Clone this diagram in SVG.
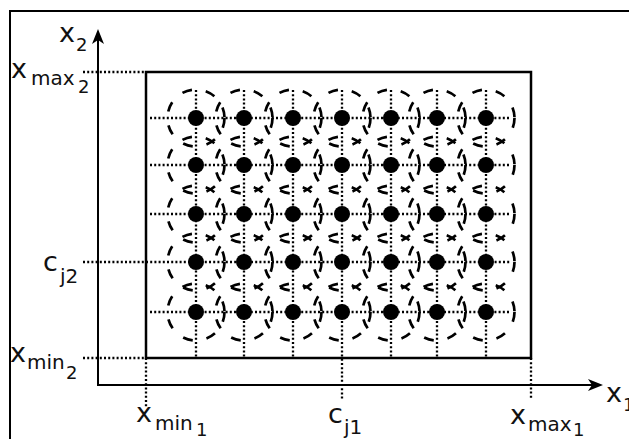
<svg xmlns="http://www.w3.org/2000/svg" width="629" height="439" viewBox="0 0 629 439">
<style>
.solid{fill:none;stroke:#000;stroke-width:2}
.dot{fill:none;stroke:#000;stroke-width:2.3;stroke-dasharray:2 2.2}
.ring{fill:none;stroke:#000;stroke-width:2.7;stroke-dasharray:10 14}
.pt{fill:#000}
text{font-family:"DejaVu Sans",sans-serif;fill:#111}
.b{font-size:27px}.s{font-size:20px}.ss{font-size:18px}
</style>
<defs>
<marker id="arr" viewBox="0 0 15 12" markerWidth="15" markerHeight="12" refX="7" refY="6" orient="auto" markerUnits="userSpaceOnUse">
<path d="M0,0 L15,6 L0,12 L4,6 Z" fill="#000"/>
</marker>
</defs>
<rect width="629" height="439" fill="#fff"/>
<g id="frame"><path class="solid" d="M10,439 V11 H629"/></g>
<g id="domain"><rect x="146" y="72" width="385" height="286" fill="none" stroke="#000" stroke-width="2.5"/></g>
<g id="connectors">
<line class="solid" x1="98" y1="386" x2="98" y2="37" marker-end="url(#arr)"/>
<line class="solid" x1="97" y1="385" x2="595" y2="385" marker-end="url(#arr)"/>
<path class="dot" d="M83,72 H146 M83,358 H146 M146,358 V408 M531,358 V400"/>
<path class="dot" d="M150,118 H510 M150,165 H510 M150,214 H510 M83,262 H510 M150,312 H510"/>
<path class="dot" d="M196,90 V358 M244,90 V358 M293,90 V358 M342,90 V400 M391,90 V358 M437,90 V358 M486,90 V358"/>
</g>
<g id="grid">
<g id="row1">
<g id="p11"><circle class="ring" cx="196" cy="118" r="28.5"/><circle class="pt" cx="196" cy="118" r="8"/></g>
<g id="p12"><circle class="ring" cx="244" cy="118" r="28.5"/><circle class="pt" cx="244" cy="118" r="8"/></g>
<g id="p13"><circle class="ring" cx="293" cy="118" r="28.5"/><circle class="pt" cx="293" cy="118" r="8"/></g>
<g id="p14"><circle class="ring" cx="342" cy="118" r="28.5"/><circle class="pt" cx="342" cy="118" r="8"/></g>
<g id="p15"><circle class="ring" cx="391" cy="118" r="28.5"/><circle class="pt" cx="391" cy="118" r="8"/></g>
<g id="p16"><circle class="ring" cx="437" cy="118" r="28.5"/><circle class="pt" cx="437" cy="118" r="8"/></g>
<g id="p17"><circle class="ring" cx="486" cy="118" r="28.5"/><circle class="pt" cx="486" cy="118" r="8"/></g>
</g>
<g id="row2">
<g id="p21"><circle class="ring" cx="196" cy="165" r="28.5"/><circle class="pt" cx="196" cy="165" r="8"/></g>
<g id="p22"><circle class="ring" cx="244" cy="165" r="28.5"/><circle class="pt" cx="244" cy="165" r="8"/></g>
<g id="p23"><circle class="ring" cx="293" cy="165" r="28.5"/><circle class="pt" cx="293" cy="165" r="8"/></g>
<g id="p24"><circle class="ring" cx="342" cy="165" r="28.5"/><circle class="pt" cx="342" cy="165" r="8"/></g>
<g id="p25"><circle class="ring" cx="391" cy="165" r="28.5"/><circle class="pt" cx="391" cy="165" r="8"/></g>
<g id="p26"><circle class="ring" cx="437" cy="165" r="28.5"/><circle class="pt" cx="437" cy="165" r="8"/></g>
<g id="p27"><circle class="ring" cx="486" cy="165" r="28.5"/><circle class="pt" cx="486" cy="165" r="8"/></g>
</g>
<g id="row3">
<g id="p31"><circle class="ring" cx="196" cy="214" r="28.5"/><circle class="pt" cx="196" cy="214" r="8"/></g>
<g id="p32"><circle class="ring" cx="244" cy="214" r="28.5"/><circle class="pt" cx="244" cy="214" r="8"/></g>
<g id="p33"><circle class="ring" cx="293" cy="214" r="28.5"/><circle class="pt" cx="293" cy="214" r="8"/></g>
<g id="p34"><circle class="ring" cx="342" cy="214" r="28.5"/><circle class="pt" cx="342" cy="214" r="8"/></g>
<g id="p35"><circle class="ring" cx="391" cy="214" r="28.5"/><circle class="pt" cx="391" cy="214" r="8"/></g>
<g id="p36"><circle class="ring" cx="437" cy="214" r="28.5"/><circle class="pt" cx="437" cy="214" r="8"/></g>
<g id="p37"><circle class="ring" cx="486" cy="214" r="28.5"/><circle class="pt" cx="486" cy="214" r="8"/></g>
</g>
<g id="row4">
<g id="p41"><circle class="ring" cx="196" cy="262" r="28.5"/><circle class="pt" cx="196" cy="262" r="8"/></g>
<g id="p42"><circle class="ring" cx="244" cy="262" r="28.5"/><circle class="pt" cx="244" cy="262" r="8"/></g>
<g id="p43"><circle class="ring" cx="293" cy="262" r="28.5"/><circle class="pt" cx="293" cy="262" r="8"/></g>
<g id="p44"><circle class="ring" cx="342" cy="262" r="28.5"/><circle class="pt" cx="342" cy="262" r="8"/></g>
<g id="p45"><circle class="ring" cx="391" cy="262" r="28.5"/><circle class="pt" cx="391" cy="262" r="8"/></g>
<g id="p46"><circle class="ring" cx="437" cy="262" r="28.5"/><circle class="pt" cx="437" cy="262" r="8"/></g>
<g id="p47"><circle class="ring" cx="486" cy="262" r="28.5"/><circle class="pt" cx="486" cy="262" r="8"/></g>
</g>
<g id="row5">
<g id="p51"><circle class="ring" cx="196" cy="312" r="28.5"/><circle class="pt" cx="196" cy="312" r="8"/></g>
<g id="p52"><circle class="ring" cx="244" cy="312" r="28.5"/><circle class="pt" cx="244" cy="312" r="8"/></g>
<g id="p53"><circle class="ring" cx="293" cy="312" r="28.5"/><circle class="pt" cx="293" cy="312" r="8"/></g>
<g id="p54"><circle class="ring" cx="342" cy="312" r="28.5"/><circle class="pt" cx="342" cy="312" r="8"/></g>
<g id="p55"><circle class="ring" cx="391" cy="312" r="28.5"/><circle class="pt" cx="391" cy="312" r="8"/></g>
<g id="p56"><circle class="ring" cx="437" cy="312" r="28.5"/><circle class="pt" cx="437" cy="312" r="8"/></g>
<g id="p57"><circle class="ring" cx="486" cy="312" r="28.5"/><circle class="pt" cx="486" cy="312" r="8"/></g>
</g>
</g>
<g id="labels">
<g id="lbl-x2"><text class="b" x="59" y="42">x</text><text class="ss" x="76" y="51">2</text></g>
<g id="lbl-xmax2"><text class="b" x="11" y="78">x</text><text class="s" x="31" y="85">max</text><text class="ss" x="78" y="93">2</text></g>
<g id="lbl-cj2"><text class="b" x="43" y="271">c</text><text class="s" x="60" y="283">j2</text></g>
<g id="lbl-xmin2"><text class="b" x="10" y="362">x</text><text class="s" x="27" y="369">min</text><text class="ss" x="66" y="379">2</text></g>
<g id="lbl-xmin1"><text class="b" x="136" y="422">x</text><text class="s" x="155" y="430">min</text><text class="ss" x="196" y="436">1</text></g>
<g id="lbl-cj1"><text class="b" x="328" y="423">c</text><text class="s" x="344" y="434">j1</text></g>
<g id="lbl-xmax1"><text class="b" x="510" y="424">x</text><text class="s" x="528" y="431">max</text><text class="ss" x="573" y="436">1</text></g>
<g id="lbl-x1"><text class="b" x="606" y="402">x</text><text class="ss" x="623" y="411">1</text></g>
</g>
</svg>
